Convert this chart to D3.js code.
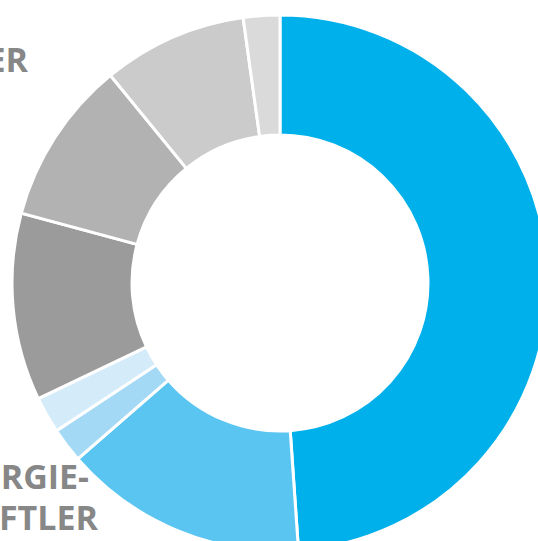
<!DOCTYPE html>
<html><head><meta charset="utf-8">
<script src="https://cdn.jsdelivr.net/npm/d3@7"></script>
<style>html,body{margin:0;padding:0;background:#fff;overflow:hidden}</style>
</head><body>
<svg id="c" width="538" height="541"></svg>
<script>
const categories = ["A","B","C","D","E","F","G","H"];
const values = [48.9, 14.7, 2.1, 2.2, 11.3, 9.9, 8.7, 2.2];
const colors = ["#00b0eb","#5bc5f2","#a4d9f6","#d4ebfa","#9b9b9b","#b2b2b2","#cbcbcb","#dadada"];
const labelTop = ["VERBRAUCHER"];
const labelBottom = ["ENERGIE-","WIRTSCHAFTLER"];

const svg = d3.select("#c");
const cx = 280, cy = 283, R = 268, r = 148;
const pie = d3.pie().sort(null).value(d => d)(values);
const arc = d3.arc().innerRadius(r).outerRadius(R);
const g = svg.append("g").attr("transform", `translate(${cx},${cy})`);
g.selectAll("path").data(pie).join("path")
  .attr("d", arc)
  .attr("fill", (d,i) => colors[i])
  .attr("stroke", "#fff").attr("stroke-width", 3).attr("stroke-linejoin","miter");

const font = "'Open Sans', sans-serif";
svg.append("text").attr("x", 28).attr("y", 72).attr("text-anchor","end")
  .attr("font-family", font).attr("font-weight", 700).attr("font-size", 34)
  .attr("fill", "#878787").text(labelTop[0]);
svg.append("text").attr("x", 89).attr("y", 489).attr("text-anchor","end")
  .attr("font-family", font).attr("font-weight", 700).attr("font-size", 34)
  .attr("fill", "#878787").text(labelBottom[0]);
svg.append("text").attr("x", 98).attr("y", 530).attr("text-anchor","end")
  .attr("font-family", font).attr("font-weight", 700).attr("font-size", 34)
  .attr("fill", "#878787").text(labelBottom[1]);
</script>
</body></html>
